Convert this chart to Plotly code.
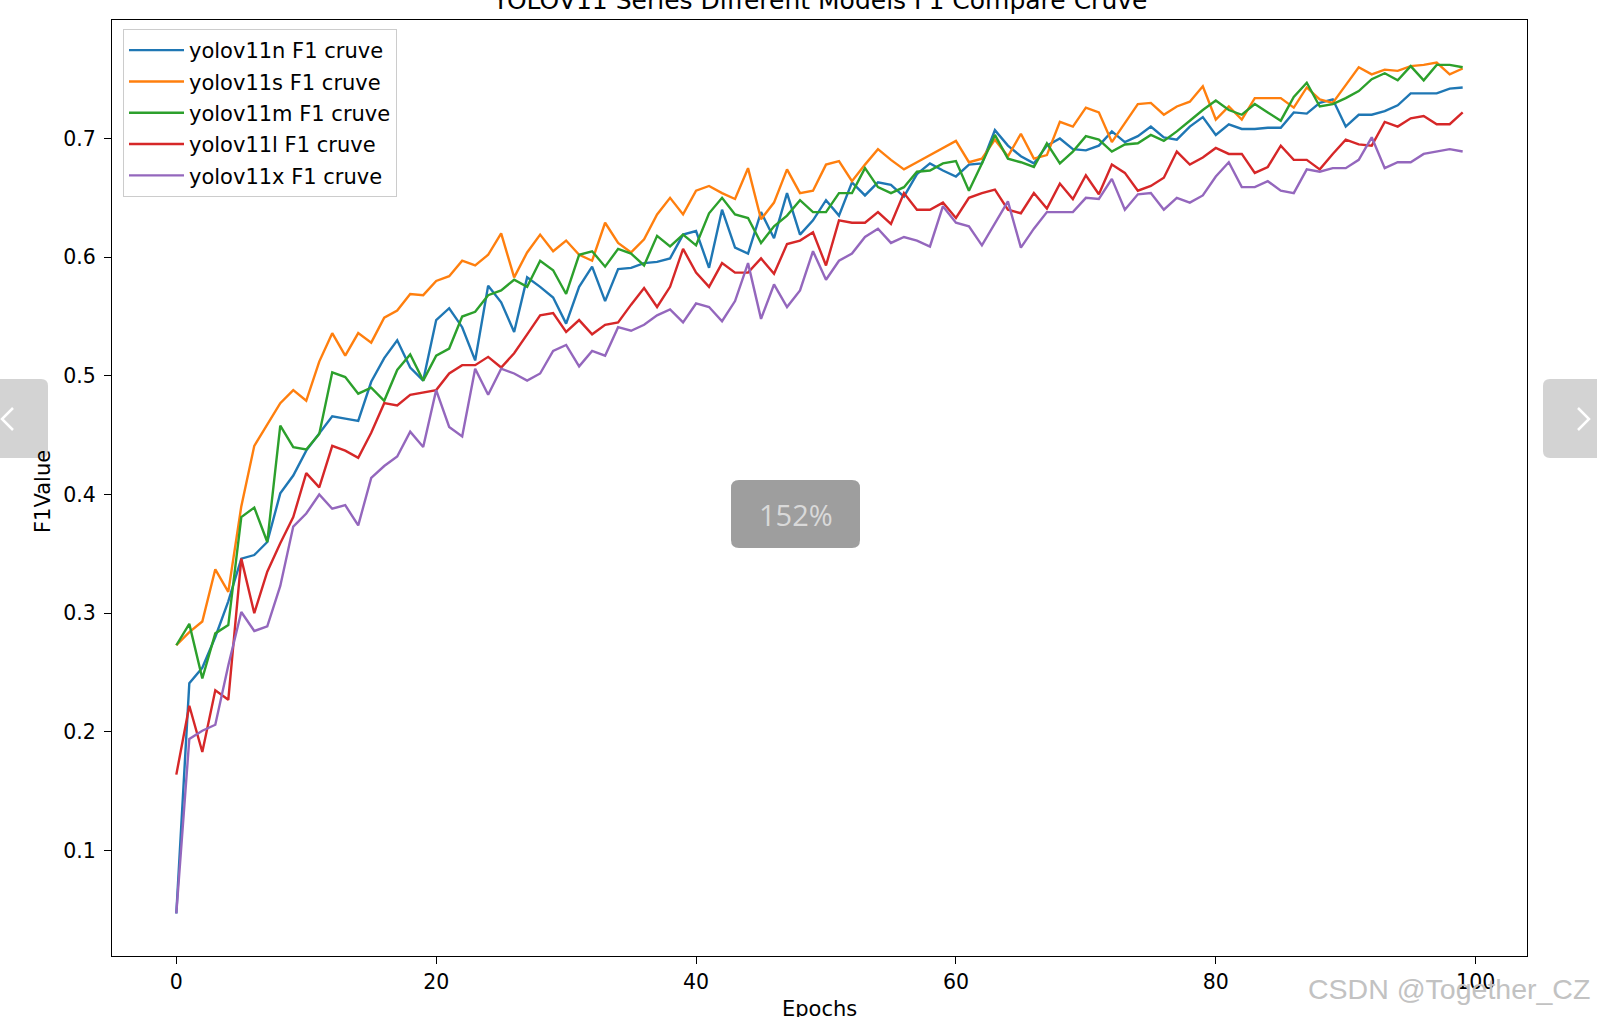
import plotly.graph_objects as go

# ---------------- data ----------------
epochs = list(range(100))

f1_n = [0.047, 0.241, 0.254, 0.280, 0.310, 0.346, 0.349, 0.360, 0.401, 0.416,
        0.437, 0.452, 0.466, 0.464, 0.462, 0.495, 0.515, 0.530, 0.507, 0.496,
        0.547, 0.557, 0.541, 0.513, 0.576, 0.562, 0.537, 0.583, 0.575, 0.566,
        0.544, 0.575, 0.592, 0.563, 0.590, 0.591, 0.595, 0.596, 0.599, 0.619,
        0.622, 0.591, 0.640, 0.608, 0.603, 0.638, 0.616, 0.654, 0.619, 0.631,
        0.648, 0.635, 0.663, 0.652, 0.663, 0.661, 0.651, 0.670, 0.679, 0.673,
        0.668, 0.678, 0.679, 0.707, 0.694, 0.685, 0.679, 0.694, 0.700, 0.691,
        0.690, 0.694, 0.706, 0.697, 0.702, 0.710, 0.701, 0.699, 0.710, 0.718,
        0.703, 0.712, 0.708, 0.708, 0.709, 0.709, 0.722, 0.721, 0.730, 0.733,
        0.710, 0.720, 0.720, 0.723, 0.728, 0.738, 0.738, 0.738, 0.742, 0.743]

f1_s = [0.273, 0.284, 0.293, 0.337, 0.318, 0.390, 0.441, 0.459, 0.477, 0.488,
        0.479, 0.512, 0.536, 0.517, 0.536, 0.528, 0.549, 0.555, 0.569, 0.568,
        0.580, 0.584, 0.597, 0.593, 0.602, 0.620, 0.583, 0.604, 0.619, 0.605,
        0.614, 0.602, 0.597, 0.629, 0.612, 0.604, 0.615, 0.636, 0.650, 0.636,
        0.656, 0.660, 0.654, 0.649, 0.675, 0.632, 0.646, 0.674, 0.654, 0.656,
        0.678, 0.681, 0.664, 0.678, 0.691, 0.682, 0.674, 0.680, 0.686, 0.692,
        0.698, 0.680, 0.683, 0.699, 0.685, 0.704, 0.683, 0.686, 0.714, 0.710,
        0.726, 0.722, 0.697, 0.713, 0.729, 0.730, 0.720, 0.727, 0.731, 0.744,
        0.716, 0.727, 0.716, 0.734, 0.734, 0.734, 0.726, 0.743, 0.733, 0.730,
        0.745, 0.760, 0.754, 0.758, 0.757, 0.761, 0.762, 0.764, 0.754, 0.759]

f1_m = [0.273, 0.291, 0.245, 0.283, 0.290, 0.381, 0.389, 0.360, 0.458, 0.440,
        0.438, 0.451, 0.503, 0.499, 0.485, 0.490, 0.479, 0.505, 0.518, 0.496,
        0.517, 0.523, 0.550, 0.554, 0.568, 0.572, 0.581, 0.575, 0.597, 0.589,
        0.569, 0.602, 0.605, 0.592, 0.607, 0.603, 0.593, 0.618, 0.609, 0.619,
        0.610, 0.637, 0.650, 0.636, 0.633, 0.612, 0.626, 0.635, 0.648, 0.638,
        0.638, 0.654, 0.654, 0.675, 0.659, 0.654, 0.659, 0.672, 0.673, 0.679,
        0.681, 0.656, 0.679, 0.703, 0.683, 0.680, 0.676, 0.696, 0.679, 0.689,
        0.702, 0.699, 0.689, 0.695, 0.696, 0.703, 0.698, 0.706, 0.715, 0.724,
        0.732, 0.724, 0.720, 0.729, 0.722, 0.715, 0.735, 0.747, 0.727, 0.729,
        0.734, 0.740, 0.750, 0.755, 0.749, 0.761, 0.749, 0.762, 0.762, 0.760]

f1_l = [0.164, 0.222, 0.183, 0.235, 0.227, 0.346, 0.300, 0.335, 0.359, 0.381,
        0.418, 0.406, 0.441, 0.437, 0.431, 0.452, 0.477, 0.475, 0.484, 0.486,
        0.488, 0.502, 0.509, 0.509, 0.516, 0.507, 0.519, 0.535, 0.551, 0.553,
        0.537, 0.547, 0.535, 0.543, 0.545, 0.560, 0.574, 0.558, 0.575, 0.607,
        0.587, 0.575, 0.595, 0.587, 0.587, 0.599, 0.586, 0.611, 0.614, 0.621,
        0.593, 0.631, 0.629, 0.629, 0.638, 0.628, 0.654, 0.640, 0.640, 0.646,
        0.633, 0.650, 0.654, 0.657, 0.640, 0.637, 0.654, 0.641, 0.662, 0.649,
        0.669, 0.653, 0.678, 0.671, 0.656, 0.660, 0.667, 0.689, 0.678, 0.684,
        0.692, 0.687, 0.687, 0.671, 0.676, 0.694, 0.682, 0.682, 0.674, 0.687,
        0.699, 0.695, 0.694, 0.714, 0.710, 0.717, 0.719, 0.712, 0.712, 0.722]

f1_x = [0.047, 0.194, 0.201, 0.206, 0.256, 0.301, 0.285, 0.289, 0.323, 0.373,
        0.384, 0.400, 0.388, 0.391, 0.374, 0.414, 0.424, 0.432, 0.453, 0.440,
        0.488, 0.457, 0.449, 0.506, 0.484, 0.506, 0.502, 0.496, 0.502, 0.521,
        0.526, 0.508, 0.521, 0.517, 0.541, 0.538, 0.543, 0.551, 0.556, 0.545,
        0.561, 0.558, 0.546, 0.563, 0.595, 0.548, 0.577, 0.558, 0.572, 0.605,
        0.581, 0.597, 0.603, 0.617, 0.624, 0.612, 0.617, 0.614, 0.609, 0.643,
        0.629, 0.626, 0.610, 0.628, 0.647, 0.608, 0.624, 0.638, 0.638, 0.638,
        0.650, 0.649, 0.666, 0.640, 0.653, 0.654, 0.640, 0.650, 0.646, 0.652,
        0.668, 0.680, 0.659, 0.659, 0.664, 0.656, 0.654, 0.674, 0.672, 0.675,
        0.675, 0.682, 0.701, 0.675, 0.680, 0.680, 0.687, 0.689, 0.691, 0.689]

series_names = ["yolov11n F1 cruve", "yolov11s F1 cruve", "yolov11m F1 cruve",
                "yolov11l F1 cruve", "yolov11x F1 cruve"]
series_values = [f1_n, f1_s, f1_m, f1_l, f1_x]
series_colors = ["#1f77b4", "#ff7f0e", "#2ca02c", "#d62728", "#9467bd"]

x_ticks = [0, 20, 40, 60, 80, 100]
y_ticks = [0.1, 0.2, 0.3, 0.4, 0.5, 0.6, 0.7]

title_text = "YOLOV11 Series Different Models F1 Compare Cruve"
x_title = "Epochs"
y_title = "F1Value"

# ---------------- layout geometry (pixels) ----------------
W_PAGE, H_PAGE = 1597, 1017
L, R, T, B = 112, 1527, 20, 956
PW, PH = R - L, B - T
FONT = "DejaVu Sans"


def px(x):
    return (x - L) / PW


def py(y):
    return 1 - (y - T) / PH


def rounded_rect(x0, y0, x1, y1, r, corners="tl,tr,br,bl"):
    c = corners.split(",")
    X0, X1, Y0, Y1 = px(x0), px(x1), py(y0), py(y1)
    rx, ry = r / PW, r / PH
    p = []
    if "tl" in c:
        p.append(f"M{X0},{Y0 - ry} Q{X0},{Y0} {X0 + rx},{Y0}")
    else:
        p.append(f"M{X0},{Y0}")
    if "tr" in c:
        p.append(f"L{X1 - rx},{Y0} Q{X1},{Y0} {X1},{Y0 - ry}")
    else:
        p.append(f"L{X1},{Y0}")
    if "br" in c:
        p.append(f"L{X1},{Y1 + ry} Q{X1},{Y1} {X1 - rx},{Y1}")
    else:
        p.append(f"L{X1},{Y1}")
    if "bl" in c:
        p.append(f"L{X0 + rx},{Y1} Q{X0},{Y1} {X0},{Y1 + ry}")
    else:
        p.append(f"L{X0},{Y1}")
    p.append("Z")
    return " ".join(p)


def polyline(points):
    return "M" + " L".join(f"{px(a)},{py(b)}" for a, b in points)


# ---------------- figure ----------------
fig = go.Figure()
for name, vals, col in zip(series_names, series_values, series_colors):
    fig.add_trace(go.Scatter(x=epochs, y=vals, mode="lines", name=name,
                             legendgroup=name,
                             line=dict(color=col, width=2.4)))

xspan = max(epochs) - min(epochs)
all_vals = [v for s in series_values for v in s]
yspan = max(all_vals) - min(all_vals)
x_range = [min(epochs) - 0.05 * xspan, max(epochs) + 0.05 * xspan]
y_range = [min(all_vals) - 0.05 * yspan, max(all_vals) + 0.05 * yspan]

axis_common = dict(showgrid=False, zeroline=False, showline=True, mirror=True,
                   linecolor="black", linewidth=1.2, ticks="outside", ticklen=7,
                   tickwidth=1.2, tickcolor="black",
                   tickfont=dict(family=FONT, size=20.5, color="black"))

fig.update_xaxes(range=x_range, tickvals=x_ticks,
                 ticktext=[str(t) for t in x_ticks], ticklabelstandoff=0,
                 **axis_common)
fig.update_yaxes(range=y_range, tickvals=y_ticks,
                 ticktext=[f"{t:.1f}" for t in y_ticks], ticklabelstandoff=4,
                 **axis_common)

shapes = [
    dict(type="path", xref="paper", yref="paper", layer="above",
         path=rounded_rect(-2, 379, 48, 458, 7, "tr,br"),
         fillcolor="#d3d3d3", line=dict(width=0)),
    dict(type="path", xref="paper", yref="paper", layer="above",
         path=rounded_rect(1543, 379, 1600, 458, 7, "tl,bl"),
         fillcolor="#d3d3d3", line=dict(width=0)),
    dict(type="path", xref="paper", yref="paper", layer="above",
         path=polyline([(13, 408), (2, 419), (13, 430)]),
         line=dict(color="white", width=2.5)),
    dict(type="path", xref="paper", yref="paper", layer="above",
         path=polyline([(1578, 408), (1589, 419), (1578, 430)]),
         line=dict(color="white", width=2.5)),
    dict(type="path", xref="paper", yref="paper", layer="above",
         path=rounded_rect(731, 480, 860, 548, 8),
         fillcolor="#9e9e9e", line=dict(width=0)),
]

annotations = [
    dict(text=title_text, x=px(819.5), y=py(0), xref="paper", yref="paper",
         xanchor="center", yanchor="middle", showarrow=False,
         font=dict(family=FONT, size=25, color="black")),
    dict(text=x_title, x=px(819.5), y=py(1009), xref="paper", yref="paper",
         xanchor="center", yanchor="middle", showarrow=False,
         font=dict(family=FONT, size=21, color="black")),
    dict(text=y_title, x=px(43), y=py(492), xref="paper", yref="paper",
         xanchor="center", yanchor="middle", showarrow=False, textangle=-90,
         font=dict(family=FONT, size=21, color="black")),
    dict(text="152%", x=px(795.5), y=py(514), xref="paper", yref="paper",
         xanchor="center", yanchor="middle", showarrow=False,
         font=dict(family="Open Sans", size=29, color="#d9d9d9")),
    dict(text="CSDN @Together_CZ", x=px(1592), y=py(989), xref="paper",
         yref="paper", xanchor="right", yanchor="middle", showarrow=False,
         font=dict(family="Liberation Sans", size=28.5, color="#c2c2c2")),
]

fig.update_layout(
    width=W_PAGE, height=H_PAGE, autosize=False,
    margin=dict(l=L, r=W_PAGE - R, t=T, b=H_PAGE - B, pad=0),
    paper_bgcolor="white", plot_bgcolor="white",
    showlegend=True,
    legend=dict(x=px(123), y=py(29), xanchor="left", yanchor="top",
                bgcolor="white", bordercolor="#cccccc", borderwidth=1,
                font=dict(family=FONT, size=21, color="black"),
                itemwidth=55, tracegroupgap=1),
    shapes=shapes, annotations=annotations,
)

fig.write_html("out.html", config={"displayModeBar": False},
               post_script="document.body.style.margin='0';document.body.style.overflow='hidden';")
